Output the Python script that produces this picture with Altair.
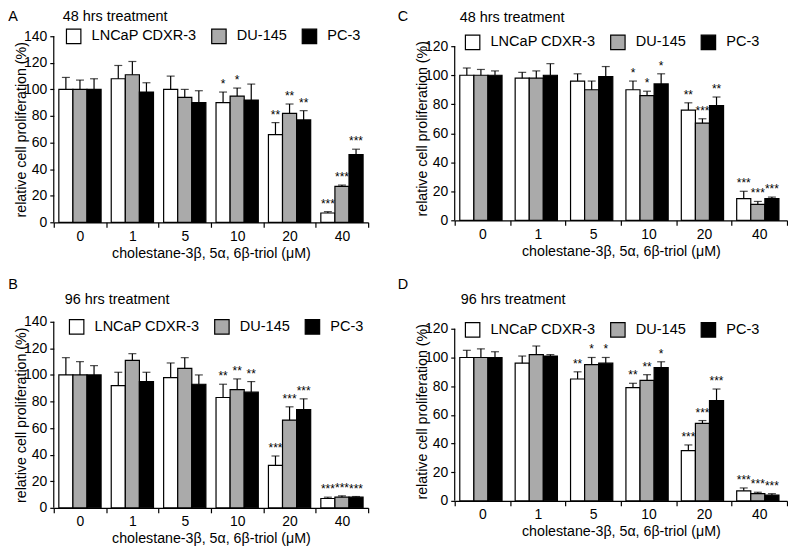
import altair as alt
import pandas as pd

concentrations = ["0", "1", "5", "10", "20", "40"]
cell_lines = ["LNCaP CDXR-3", "DU-145", "PC-3"]
fills = ["white", "#aaaaaa", "black"]
x_title = "cholestane-3β, 5α, 6β-triol (μM)"
y_title = "relative cell proliferation (%)"

# Panel A: 48 hrs treatment
a_lncap = [100, 108, 100, 90, 66, 7]
a_lncap_err = [9, 10, 10, 8, 9, 1]
a_lncap_sig = ["", "", "", "*", "**", "***"]
a_du = [100, 111, 94, 95, 82, 27]
a_du_err = [7, 10, 6, 6, 7, 1]
a_du_sig = ["", "", "", "*", "**", "***"]
a_pc = [100, 98, 90, 92, 77, 51]
a_pc_err = [8, 7, 9, 12, 7, 4]
a_pc_sig = ["", "", "", "", "**", "***"]

# Panel B: 96 hrs treatment
b_lncap = [100, 92, 98, 83, 32, 7]
b_lncap_err = [13, 10, 11, 10, 7, 1]
b_lncap_sig = ["", "", "", "**", "***", "***"]
b_du = [100, 111, 105, 89, 66, 8]
b_du_err = [10, 5, 8, 8, 10, 1]
b_du_sig = ["", "", "", "**", "***", "***"]
b_pc = [100, 95, 93, 87, 74, 8]
b_pc_err = [7, 7, 7, 8, 8, 0.5]
b_pc_sig = ["", "", "", "**", "***", "***"]

# Panel C: 48 hrs treatment
c_lncap = [100, 98, 96, 90, 76, 15]
c_lncap_err = [5, 4, 5, 6, 5, 5]
c_lncap_sig = ["", "", "", "*", "**", "***"]
c_du = [100, 98, 90, 86, 67, 11]
c_du_err = [4, 5, 6, 3, 3, 2]
c_du_sig = ["", "", "", "*", "***", "***"]
c_pc = [100, 100, 99, 94, 79, 15]
c_pc_err = [3, 8, 7, 7, 6, 1]
c_pc_sig = ["", "", "", "*", "**", "***"]

# Panel D: 96 hrs treatment
d_lncap = [100, 96, 85, 79, 35, 7]
d_lncap_err = [5, 5, 5, 3, 4, 2]
d_lncap_sig = ["", "", "**", "**", "***", "***"]
d_du = [100, 102, 95, 84, 54, 5]
d_du_err = [6, 6, 5, 4, 2, 1]
d_du_sig = ["", "", "*", "**", "***", "***"]
d_pc = [100, 101, 96, 93, 70, 4]
d_pc_err = [4, 1, 4, 4, 8, 1]
d_pc_sig = ["", "", "*", "*", "***", "***"]

FONT = "Liberation Sans"


def make_df(vals, errs, sigs):
    rows = []
    for line, v, e, s in zip(cell_lines, vals, errs, sigs):
        for c, vv, ee, ss in zip(concentrations, v, e, s):
            rows.append(dict(conc=c, line=line, value=vv, top=vv + ee, sig=ss))
    return pd.DataFrame(rows)


def panel(df, letter, subtitle, ytop, axis_max, w, h, letter_xy, title_xy, leg_xy):
    xaxis = alt.Axis(title=x_title, labelAngle=0, tickBand="extent", tickSize=5,
                     labelPadding=2, titlePadding=3)
    xenc = alt.X("conc:N", sort=concentrations,
                 scale=alt.Scale(paddingInner=0, paddingOuter=0), axis=xaxis)
    xoff = alt.XOffset("line:N", sort=cell_lines,
                       scale=alt.Scale(paddingInner=0, paddingOuter=0.36))
    yscale = alt.Scale(domain=[0, ytop], nice=False, zero=True)
    yaxis = alt.Axis(title=y_title, values=list(range(0, axis_max + 1, 20)),
                     domain=False, grid=False, tickSize=4, labelPadding=3,
                     titlePadding=-5)

    def yenc(field):
        return alt.Y(field, type="quantitative", scale=yscale, axis=yaxis)

    base = alt.Chart(df)
    bars = base.mark_bar(stroke="black", strokeWidth=1.2).encode(
        x=xenc, xOffset=xoff, y=yenc("value"),
        fill=alt.Fill("line:N", sort=cell_lines,
                      scale=alt.Scale(domain=cell_lines, range=fills),
                      legend=alt.Legend(title=None, orient="none",
                                        legendX=leg_xy[0], legendY=leg_xy[1],
                                        direction="horizontal", columns=3,
                                        symbolType="square", symbolSize=210,
                                        symbolStrokeColor="black",
                                        symbolStrokeWidth=1.2,
                                        labelFontSize=14.6, labelFont=FONT,
                                        labelColor="black", labelOffset=10,
                                        columnPadding=12)))
    errs = base.mark_rule(color="black", strokeWidth=1.2).encode(
        x=xenc, xOffset=xoff, y=yenc("value"), y2="top:Q")
    caps = base.mark_tick(color="black", orient="horizontal", size=8,
                          thickness=1.2).encode(x=xenc, xOffset=xoff, y=yenc("top"))
    stars = base.mark_text(baseline="bottom", dy=-1, fontSize=12, font=FONT,
                           color="black").encode(
        x=xenc, xOffset=xoff, y=yenc("top"), text="sig:N")
    yline = alt.Chart(pd.DataFrame({"y0": [0], "y1": [axis_max]})).mark_rule(
        color="black", strokeWidth=1.2).encode(
        x=alt.value(0), y=yenc("y0"), y2="y1:Q")
    letter_t = alt.Chart(pd.DataFrame({"t": [letter]})).mark_text(
        align="center", baseline="middle", fontSize=14.5, font=FONT, color="black").encode(
        text="t:N", x=alt.value(letter_xy[0]), y=alt.value(letter_xy[1]))
    title_t = alt.Chart(pd.DataFrame({"t": [subtitle]})).mark_text(
        align="left", baseline="middle", fontSize=14.5, font=FONT, color="black").encode(
        text="t:N", x=alt.value(title_xy[0]), y=alt.value(title_xy[1]))
    return alt.layer(bars, errs, caps, stars, yline, letter_t, title_t).properties(
        width=w, height=h)


dfA = make_df([a_lncap, a_du, a_pc], [a_lncap_err, a_du_err, a_pc_err],
              [a_lncap_sig, a_du_sig, a_pc_sig])
dfB = make_df([b_lncap, b_du, b_pc], [b_lncap_err, b_du_err, b_pc_err],
              [b_lncap_sig, b_du_sig, b_pc_sig])
dfC = make_df([c_lncap, c_du, c_pc], [c_lncap_err, c_du_err, c_pc_err],
              [c_lncap_sig, c_du_sig, c_pc_sig])
dfD = make_df([d_lncap, d_du, d_pc], [d_lncap_err, d_du_err, d_pc_err],
              [d_lncap_sig, d_du_sig, d_pc_sig])

pA = panel(dfA, "A", "48 hrs treatment", 140, 140, 316, 187, (-41, -19), (9, -19), (12, -8))
pC = panel(dfC, "C", "48 hrs treatment", 126.9, 120, 334, 185, (-52, -19), (5, -18), (10, -2))
pB = panel(dfB, "B", "96 hrs treatment", 140, 140, 316, 187, (-41, -37), (11, -22), (15, -3))
pD = panel(dfD, "D", "96 hrs treatment", 124.9, 120, 334, 180, (-52, -37), (6, -22), (10, 0))

row1 = alt.hconcat(pA, pC, spacing=28).resolve_scale(fill="independent").resolve_legend(fill="independent")
row2 = alt.hconcat(pB, pD, spacing=28).resolve_scale(fill="independent").resolve_legend(fill="independent")

chart = alt.vconcat(row1, row2, spacing=16).resolve_scale(
    fill="independent").resolve_legend(fill="independent").properties(
    padding=0, background="white"
).configure_view(stroke=None).configure_axis(
    labelFont=FONT, titleFont=FONT, labelFontSize=14, titleFontSize=14.3,
    titleFontWeight="normal", labelColor="black", titleColor="black",
    domainColor="black", tickColor="black", domainWidth=1.2, tickWidth=1.2
)

chart.save("out.html", embed_options={"renderer": "svg", "actions": False})
